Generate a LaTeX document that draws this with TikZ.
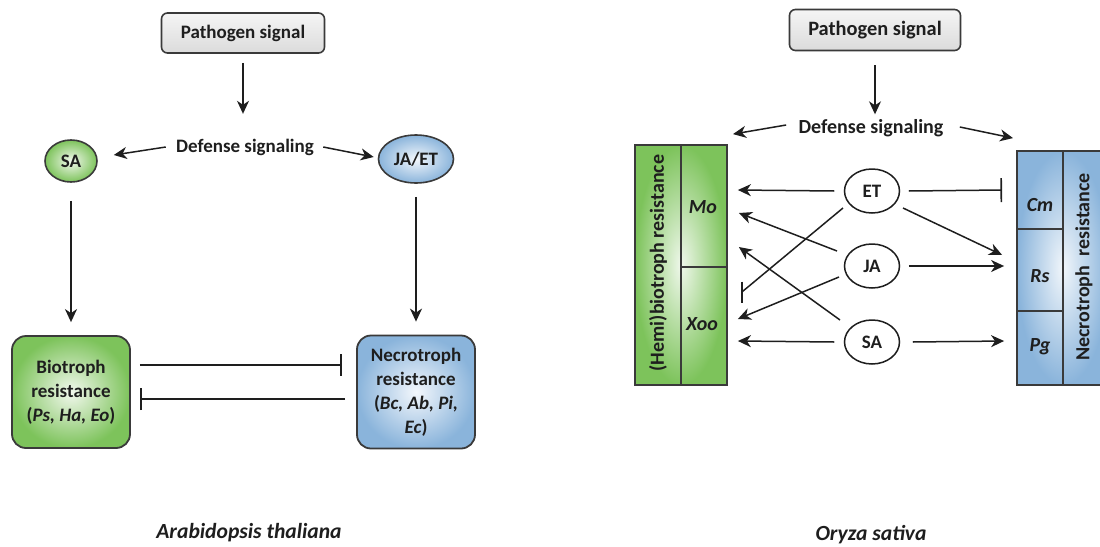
\documentclass[tikz,border=0pt]{standalone}
\usepackage{fontspec}
\setmainfont{Carlito}
\usetikzlibrary{arrows.meta,shapes.geometric,calc}
\definecolor{gOut}{HTML}{7DC35B}
\definecolor{gIn}{HTML}{F2F8EE}
\definecolor{bOut}{HTML}{8AB4DB}
\definecolor{bIn}{HTML}{F3F7FC}
\definecolor{txt}{HTML}{1E1E1E}
\definecolor{edge}{HTML}{3A3A3A}
\begin{document}
\begin{tikzpicture}[x=0.5pt,y=-0.5pt,
  font=\fontsize{9.5}{12}\selectfont\bfseries, text=txt,
  arr/.style={draw=txt,line width=0.75pt,-{Stealth[length=6.5pt,width=6pt,inset=2pt]}},
  inh/.style={draw=txt,line width=0.75pt,-{Bar[width=11pt,line width=0.85pt]}},
  plain/.style={draw=txt,line width=0.75pt},
  sigbox/.style={draw=edge,line width=0.8pt,rounded corners=3pt,inner sep=0pt,
    top color=gray!8,bottom color=gray!28,minimum width=81.5pt,minimum height=20pt},
  txtnode/.style={inner sep=0pt},
  gres/.style={draw=edge,line width=0.9pt,rounded corners=7pt,inner sep=0pt,align=center,
    inner color=gIn,outer color=gOut,minimum width=59pt,minimum height=56pt},
  bres/.style={draw=edge,line width=0.9pt,rounded corners=7pt,inner sep=0pt,align=center,
    inner color=bIn,outer color=bOut,minimum width=59pt,minimum height=56.5pt},
  hormone/.style={ellipse,draw=txt,line width=0.75pt,inner sep=0pt,fill=white,
    minimum width=27.5pt,minimum height=22pt},
  celltxt/.style={inner sep=0pt,font=\fontsize{10}{12}\selectfont\bfseries\itshape},
  coltxt/.style={inner sep=0pt,rotate=90,font=\fontsize{10}{12}\selectfont\bfseries},
  title/.style={inner sep=0pt,font=\fontsize{10.8}{13}\selectfont\bfseries\itshape}
]
\useasboundingbox (0,0) rectangle (1100,547);
\clip (0,0) rectangle (1100,547);

% ---------------- Left panel ----------------
\node[sigbox] (ps1) at (243,33) {Pathogen signal};
\node[txtnode] (ds1) at (245,147) {Defense signaling};
\node[ellipse,draw=edge,line width=0.8pt,inner sep=0pt,inner color=gIn,outer color=gOut,
  minimum width=26pt,minimum height=21pt] (sa1) at (71,161) {SA};
\node[ellipse,draw=edge,line width=0.8pt,inner sep=0pt,inner color=bIn,outer color=bOut,
  minimum width=37.5pt,minimum height=24pt] (je1) at (416,159) {JA/ET};
\node[gres] (bio) at (71,392) {Biotroph\\resistance\\(\textit{Ps, Ha, Eo})};
\node[bres] (nec) at (416,392) {Necrotroph\\resistance\\(\textit{Bc, Ab, Pi,}\\\textit{Ec})};
\node[title] (t1) at (249,533) {Arabidopsis thaliana};

\draw[arr] ([yshift=-4.5pt]ps1.south) -- ([yshift=-30pt]ps1.south);
\draw[arr] ([xshift=-5pt]ds1.west) -- ([xshift=8pt,yshift=3pt]sa1.east);
\draw[arr] ([xshift=4.5pt]ds1.east) -- ([xshift=-2pt,yshift=1pt]je1.west);
\draw[arr,shorten <=9pt,shorten >=6.5pt] (sa1) -- (bio);
\draw[arr,shorten <=6.5pt,shorten >=6.5pt] (je1) -- (nec);
\draw[inh] ([xshift=4.5pt,yshift=13.5pt]bio.east) -- ([xshift=-7pt,yshift=13.5pt]nec.west);
\draw[inh] ([xshift=-5.5pt,yshift=-3.5pt]nec.west) -- ([xshift=4.5pt,yshift=-3.5pt]bio.east);

% ---------------- Right panel ----------------
\node[sigbox,minimum width=85.5pt,minimum height=20.5pt,font=\fontsize{10.2}{12}\selectfont\bfseries] (ps2) at (875,30) {Pathogen signal};
\node[txtnode,font=\fontsize{10}{12}\selectfont\bfseries] (ds2) at (871,128) {Defense signaling};

% green (hemi)biotroph box
\node[draw=edge,line width=0.9pt,inner sep=0pt,inner color=gOut!12!white,outer color=gOut,
  minimum width=46pt,minimum height=120pt] (gbox) at (681,265) {};
\draw[draw=edge,line width=0.9pt] (gbox.north) -- (gbox.south);
\draw[draw=edge,line width=0.9pt] ($(gbox.east)+(-46,2)$) -- ($(gbox.east)+(0,2)$);
\node[coltxt] (hemi) at (658,263) {(Hemi)biotroph resistance};
\node[celltxt] (mo) at (703,207) {Mo};
\node[celltxt] (xoo) at (702,324) {Xoo};

% blue necrotroph box
\node[draw=edge,line width=0.9pt,inner sep=0pt,inner color=bOut!12!white,outer color=bOut,
  minimum width=46pt,minimum height=117pt] (bbox) at (1063,268) {};
\draw[draw=edge,line width=0.9pt] (bbox.north) -- (bbox.south);
\draw[draw=edge,line width=0.9pt] ($(bbox.west)+(0,-39)$) -- ($(bbox.west)+(46,-39)$);
\draw[draw=edge,line width=0.9pt] ($(bbox.west)+(0,43)$) -- ($(bbox.west)+(46,43)$);
\node[coltxt] (necr) at (1084,267) {Necrotroph\ \ resistance};
\node[celltxt] (cm) at (1040,205) {Cm};
\node[celltxt] (rs) at (1040,276) {Rs};
\node[celltxt] (pg) at (1040,347) {Pg};

\node[hormone] (et) at (872,191) {ET};
\node[hormone] (ja) at (872,266) {JA};
\node[hormone] (sa2) at (872,342) {SA};
\node[title] (t2) at (871,535) {Oryza sativa};

\draw[arr] ([yshift=-7pt]ps2.south) -- ([yshift=-31.5pt]ps2.south);
\draw[arr] ([xshift=-6pt,yshift=1.5pt]ds2.west) -- ([xshift=26pt,yshift=5pt]gbox.north);
\draw[arr] ([xshift=8pt,yshift=0.5pt]ds2.east) -- ([xshift=-25pt,yshift=6pt]bbox.north);

\draw[arr] ([xshift=-4.75pt]et.west) -- ([xshift=5pt,yshift=37.5pt]gbox.east);
\draw[draw=txt,line width=0.75pt,-{Bar[width=12pt,line width=0.85pt]}] ([xshift=4.25pt]et.east) -- ([xshift=-7pt,yshift=39pt]bbox.west);
\draw[arr] ([xshift=15.5pt,yshift=-8.5pt]et.center) -- ([xshift=-7pt,yshift=6.5pt]bbox.west);
\draw[plain] ([xshift=-14.5pt,yshift=-8.5pt]et.center) -- ([xshift=7pt,yshift=-13.5pt]gbox.east) coordinate (etbar);
\draw[draw=txt,line width=0.85pt] ($(etbar)+(0,-10.5)$) -- ($(etbar)+(0,10.5)$);

\draw[arr] ([xshift=4.25pt]ja.east) -- ([xshift=-6pt,yshift=1pt]bbox.west);
\draw[arr] ([xshift=-17.5pt,yshift=7.5pt]ja.center) -- ([xshift=5.5pt,yshift=26pt]gbox.east);
\draw[arr] ([xshift=-16.5pt,yshift=-5.5pt]ja.center) -- ([xshift=5pt,yshift=-27pt]gbox.east);

\draw[arr] ([xshift=-16pt,yshift=11pt]sa2.center) -- ([xshift=5.5pt,yshift=9pt]gbox.east);
\draw[arr] ([xshift=-4.75pt]sa2.west) -- ([xshift=5pt,yshift=-38pt]gbox.east);
\draw[arr] ([xshift=6.25pt]sa2.east) -- ([xshift=-6pt,yshift=-36.5pt]bbox.west);
\end{tikzpicture}
\end{document}
